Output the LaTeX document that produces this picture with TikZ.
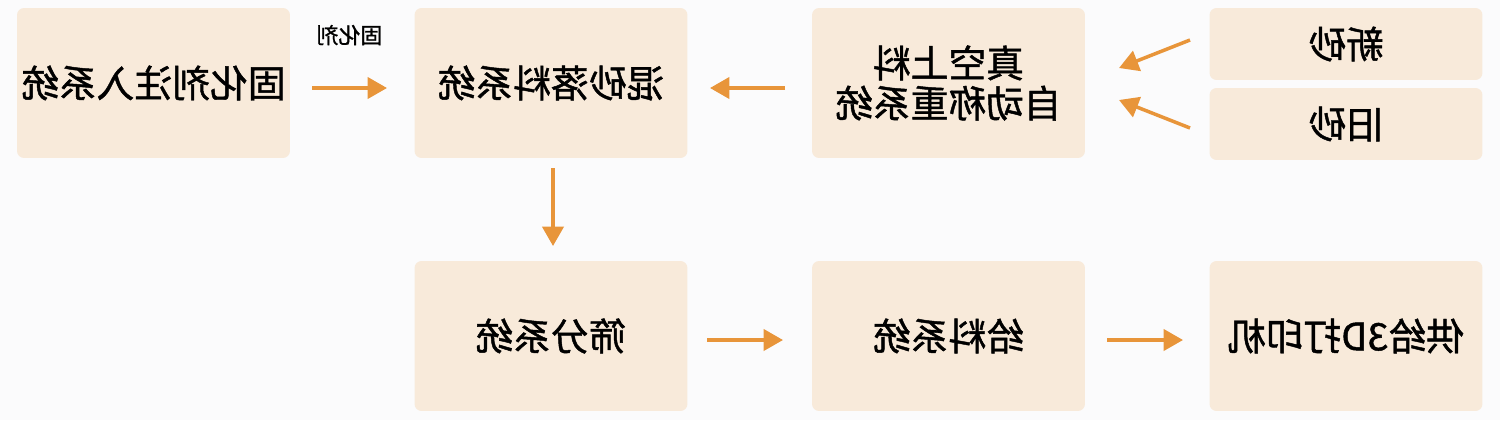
\documentclass[tikz,border=0pt]{standalone}
\usepackage{fontspec}
\setmainfont{Noto Sans CJK SC}[FakeBold=1.2]
\usetikzlibrary{calc,arrows.meta}
\definecolor{bg}{HTML}{FBFBFC}
\definecolor{boxfill}{HTML}{F8EADA}
\definecolor{arr}{HTML}{E8953A}
\newcommand{\mir}[1]{\scalebox{-1}[1]{#1}}
\tikzset{
 box/.style={fill=boxfill,rounded corners=4pt,minimum width=5.46cm,minimum height=3cm,inner sep=0pt,font=\fontsize{21.5}{27}\selectfont,align=center},
 sbox/.style={box,minimum height=1.44cm},
 conn/.style={draw=arr,line width=2pt,-{Triangle[length=11pt,width=12pt]}}
}
\begin{document}
\begin{tikzpicture}[x=0.02cm,y=-0.02cm]
\fill[bg] (0,0) rectangle (1500,420);
\node[box] (b1) at (153.5,83) {\mir{固化剂注入系统}};
\node[box] (b2) at (551,83) {\mir{混砂落料系统}};
\node[box] (b3) at (948.5,83) {\mir{\shortstack{真空上料\\自动称重系统}}};
\node[sbox] (n1) at (1346,44) {\mir{新砂}};
\node[sbox] (n2) at (1346,124) {\mir{旧砂}};
\node[box] (c1) at (551,336) {\mir{筛分系统}};
\node[box] (c2) at (948.5,336) {\mir{给料系统}};
\node[box] (c3) at (1346,336) {\mir{供给3D打印机}};
\coordinate (a1s) at (312,88); \coordinate (a1e) at (387,88);
\draw[conn] (a1s) -- node[above=20pt,font=\fontsize{12.5}{14}\selectfont,text=black]{\mir{固化剂}} (a1e);
\coordinate (a2s) at (785,88); \coordinate (a2e) at (710,88);
\draw[conn] (a2s) -- (a2e);
\coordinate (a3s) at (1190,40); \coordinate (a3e) at (1119,68);
\draw[conn] (a3s) -- (a3e);
\coordinate (a4s) at (1190,128); \coordinate (a4e) at (1119,100);
\draw[conn] (a4s) -- (a4e);
\coordinate (a5s) at (553,168); \coordinate (a5e) at (553,246);
\draw[conn] (a5s) -- (a5e);
\coordinate (a6s) at (707,340); \coordinate (a6e) at (783,340);
\draw[conn] (a6s) -- (a6e);
\coordinate (a7s) at (1107,340); \coordinate (a7e) at (1183,340);
\draw[conn] (a7s) -- (a7e);
\end{tikzpicture}
\end{document}
